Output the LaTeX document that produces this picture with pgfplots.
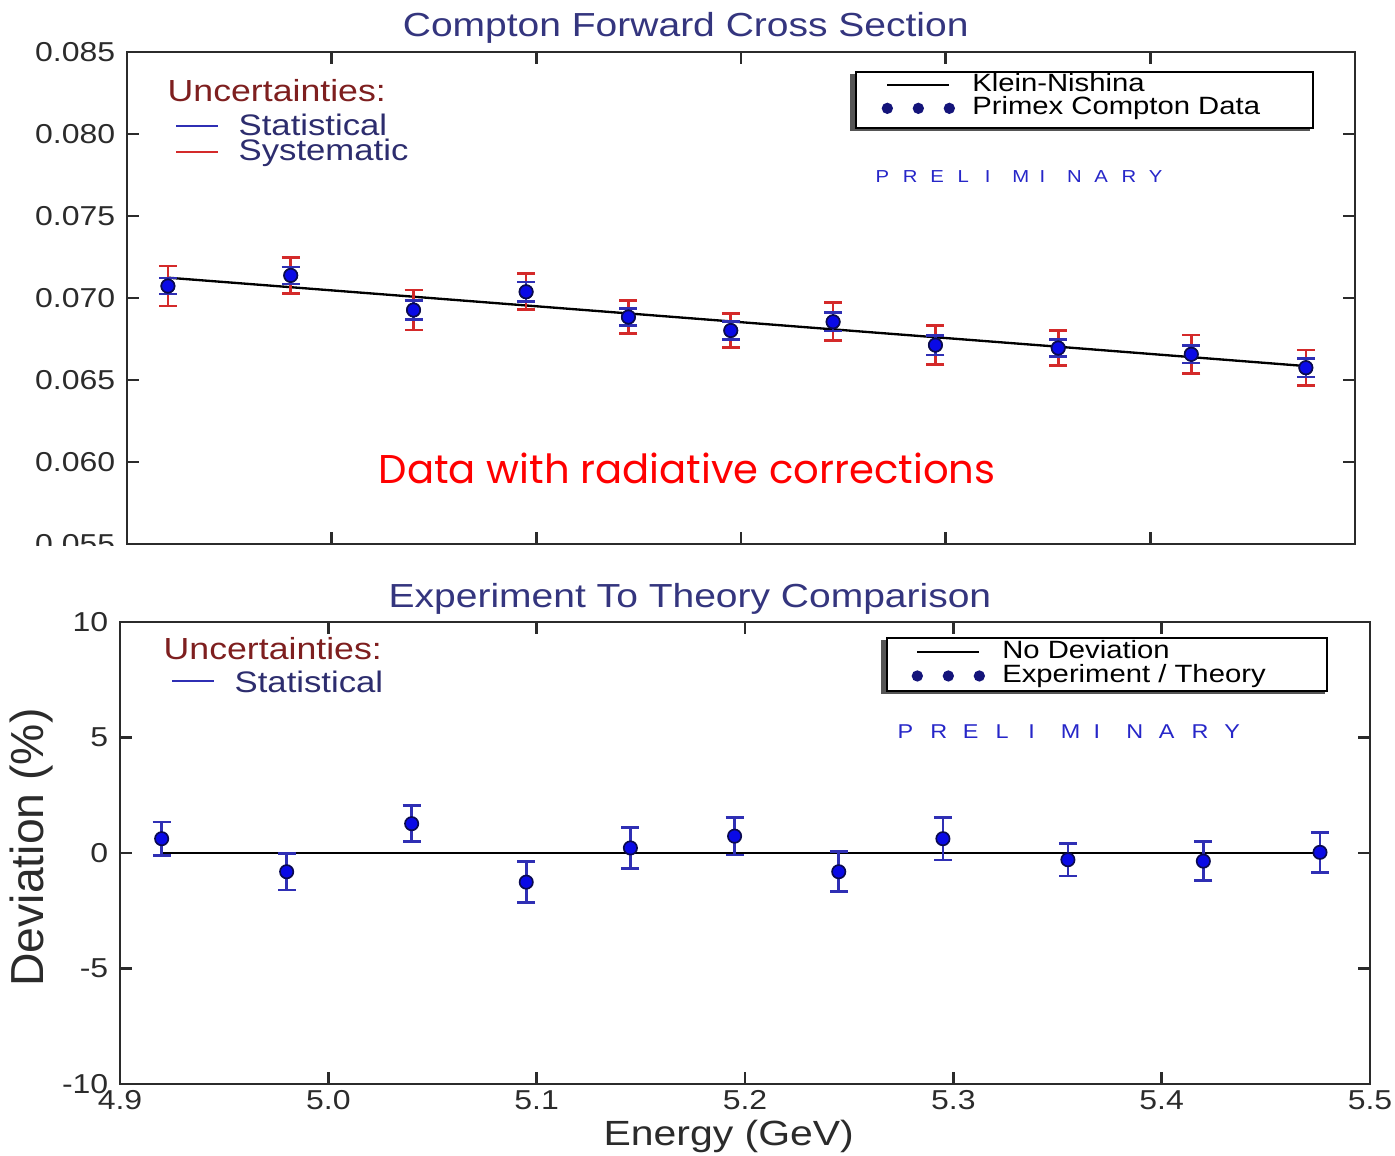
\documentclass[border=0pt]{standalone}
\usepackage{pgfplots}
\pgfplotsset{compat=1.18}
\usepackage{pgfplotstable}
\usepackage{fontspec}
% the reference is set in a slightly widened Arial
\setmainfont[FakeStretch=1.17]{Liberation Sans}
\newfontfamily\plainsans{Liberation Sans}
\newfontfamily\comicfont{Poppins}

\definecolor{framegray}{HTML}{2B2B2B}
\definecolor{titleblue}{HTML}{34357E}
\definecolor{uncred}{HTML}{7E1F1F}
\definecolor{txtnavy}{HTML}{2D2D6E}
\definecolor{statblue}{HTML}{2F2FB4}
\definecolor{sysred}{HTML}{D42A2A}
\definecolor{markblue}{HTML}{0A0AE6}
\definecolor{markedge}{HTML}{0A0A50}
\definecolor{legnavy}{HTML}{14147A}
\definecolor{prelblue}{HTML}{2626C8}

% energy [GeV], cross section, statistical and systematic uncertainty
\pgfplotstableread{
E      v        stat     sys
4.920  0.07073  0.00049  0.00122
4.980  0.07138  0.00052  0.00110
5.040  0.06927  0.00056  0.00122
5.095  0.07038  0.00059  0.00110
5.145  0.06884  0.00053  0.00102
5.195  0.06802  0.00054  0.00104
5.245  0.06855  0.00056  0.00116
5.295  0.06713  0.00060  0.00119
5.355  0.06695  0.00051  0.00106
5.420  0.06657  0.00053  0.00117
5.476  0.06575  0.00057  0.00109
}\crosssection

% energy [GeV], deviation [%], statistical uncertainty
\pgfplotstableread{
E      d      stat
4.920   0.62  0.72
4.980  -0.81  0.79
5.040   1.27  0.78
5.095  -1.26  0.88
5.145   0.22  0.88
5.195   0.73  0.82
5.245  -0.81  0.87
5.295   0.62  0.92
5.355  -0.29  0.71
5.420  -0.35  0.84
5.476   0.03  0.87
}\deviation

\pgfplotsset{
    panel/.style={
            scale only axis,
            xmin=4.9, xmax=5.5,
            xtick={4.9,5.0,5.1,5.2,5.3,5.4,5.5},
            tick align=inside,
            major tick length=3.6pt,
            axis line style={framegray, line width=0.8pt},
            every tick/.append style={framegray, line width=0.8pt},
            ticklabel style={font=\fontsize{8.2}{10}\selectfont, text=framegray},
            xticklabel style={yshift=1.5pt},
            /pgf/number format/assume math mode=true,
            scaled ticks=false,
            every axis title shift=0pt,
            title style={font=\fontsize{10}{12}\selectfont, text=titleblue, anchor=base},
            legend cell align=left,
            legend style={draw=none, fill=none, inner sep=0pt, anchor=north west,
                    row sep=-1.8pt, font=\fontsize{7.5}{9}\selectfont,
                    nodes={inner sep=1pt}},
        },
    pxmarks/.style={only marks, mark=*, mark size=2pt,
            mark options={fill=markblue, draw=markedge, line width=0.5pt}},
    pxsys/.style={only marks, mark=none, forget plot,
            error bars/y dir=both, error bars/y explicit,
            error bars/error bar style={sysred, line width=0.8pt},
            error bars/error mark options={rotate=90, mark size=2.7pt, sysred, line width=0.8pt}},
    pxstat/.style={
            error bars/y dir=both, error bars/y explicit,
            error bars/error bar style={statblue, line width=0.8pt},
            error bars/error mark options={rotate=90, mark size=2.7pt, statblue, line width=0.8pt}},
    pxlinekey/.style={legend image code/.code={
                    \path[draw=none, fill=none] (-2pt,-1pt) rectangle (24.5pt,1pt);
                    \draw[black, line width=0.6pt] (0pt,0pt) -- (18.6pt,0pt);}},
    pxdotkey/.style={legend image code/.code={
                    \path[draw=none, fill=none] (-2pt,-1pt) rectangle (24.5pt,1pt);
                    \fill[legnavy, draw=none] (0pt,0pt) circle (1.7pt) (9.3pt,0pt) circle (1.7pt)
                    (18.6pt,0pt) circle (1.7pt);}},
}

\newcommand\prelim[1]{%
    \makebox[#1][l]{P}\makebox[#1][l]{R}\makebox[#1][l]{E}\makebox[#1][l]{L}%
    \makebox[#1][l]{I}\makebox[#1][l]{M}\makebox[#1][l]{I}\makebox[#1][l]{N}%
    \makebox[#1][l]{A}\makebox[#1][l]{R}Y}

\begin{document}
\begin{tikzpicture}
    \path[use as bounding box] (0,0) rectangle (418.5pt,-346.5pt);

    % legend frames with their dark edge, pixel coordinates of the reference
    \begin{scope}[x=0.3pt, y=-0.3pt]
        \fill[framegray!80] (850,74) rectangle (1310,131);
        \draw[black, line width=0.6pt, fill=white] (856,72) rectangle (1313,128);
        \fill[framegray!80] (881,640) rectangle (1325,694);
        \draw[black, line width=0.6pt, fill=white] (887,638) rectangle (1327,691);
    \end{scope}

    % --- upper panel: cross section ---
    \begin{axis}[panel,
            at={(38.1pt,-163.2pt)}, anchor=south west,
            width=368.4pt, height=147.6pt,
            ymin=0.055, ymax=0.085,
            ytick={0.055,0.060,0.065,0.070,0.075,0.080,0.085},
            yticklabel style={/pgf/number format/.cd, fixed, fixed zerofill, precision=3},
            xticklabels={},
            title={Compton Forward Cross Section},
            title style={at={(axis description cs:0.455,1.0325)}},
            legend style={at={(axis description cs:0.6132,0.9655)}},
        ]
        \addplot[black, line width=0.7pt, pxlinekey]
        coordinates {(4.920,0.07124) (5.040,0.07008) (5.145,0.06906)
                (5.245,0.06809) (5.355,0.06703) (5.476,0.06585)};
        \addlegendentry{Klein-Nishina}
        \addplot[pxsys] table[x=E, y=v, y error=sys] {\crosssection};
        \addplot[pxmarks, pxstat, pxdotkey]
        table[x=E, y=v, y error=stat] {\crosssection};
        \addlegendentry{Primex Compton Data}
    \end{axis}
    % lower half of the 0.055 label is hidden below the frame
    \fill[white] (0pt,-163.75pt) rectangle (37.6pt,-175pt);

    % --- lower panel: deviation from theory ---
    \begin{axis}[panel,
            at={(36pt,-325.2pt)}, anchor=south west,
            width=375pt, height=138.6pt,
            ymin=-10, ymax=10,
            ytick={-10,-5,0,5,10},
            yticklabels={-10,-5,0,5,10},
            xticklabel style={/pgf/number format/.cd, fixed, fixed zerofill, precision=1},
            title={Experiment To Theory Comparison},
            title style={at={(axis description cs:0.456,1.0325)}},
            xlabel={Energy (GeV)},
            xlabel style={at={(axis description cs:0.487,-0.132)}, anchor=base,
                    font=\fontsize{10.5}{12}\selectfont, text=framegray},
            ylabel={Deviation (\%)},
            ylabel style={at={(axis description cs:-0.0612,0.512)}, anchor=base,
                    font=\plainsans\fontsize{13.9}{15}\selectfont, text=framegray},
            legend style={at={(axis description cs:0.632,0.9684)}},
        ]
        \addplot[black, line width=0.7pt, pxlinekey]
        coordinates {(4.920,0) (5.476,0)};
        \addlegendentry{No Deviation}
        \addplot[pxmarks, pxstat, pxdotkey]
        table[x=E, y=d, y error=stat] {\deviation};
        \addlegendentry{Experiment / Theory}
    \end{axis}

    % annotations, pixel coordinates of the reference
    \begin{scope}[x=0.3pt, y=-0.3pt, every node/.style={inner sep=0pt, anchor=base west}]
        \node[text=uncred, font=\fontsize{9.15}{11}\selectfont] at (167,101) {Uncertainties:};
        \draw[statblue, line width=0.6pt] (176,126) -- (218,126);
        \node[text=txtnavy, font=\fontsize{8.9}{11}\selectfont] at (238,135) {Statistical};
        \draw[sysred, line width=0.6pt] (176,152) -- (218,152);
        \node[text=txtnavy, font=\fontsize{8.9}{11}\selectfont] at (238,160) {Systematic};
        \node[text=prelblue, font=\fontsize{5.2}{6}\selectfont] at (875,182) {\prelim{8.2pt}};
        \node[text=red] at (378,483)
        {\resizebox{185pt}{!}{\comicfont Data with radiative corrections}};

        \node[text=uncred, font=\fontsize{9.15}{11}\selectfont] at (163,659) {Uncertainties:};
        \draw[statblue, line width=0.6pt] (172,681) -- (214,681);
        \node[text=txtnavy, font=\fontsize{8.9}{11}\selectfont] at (234,692) {Statistical};
        \node[text=prelblue, font=\fontsize{6}{7}\selectfont] at (897,738) {\prelim{9.8pt}};
    \end{scope}
\end{tikzpicture}
\end{document}
